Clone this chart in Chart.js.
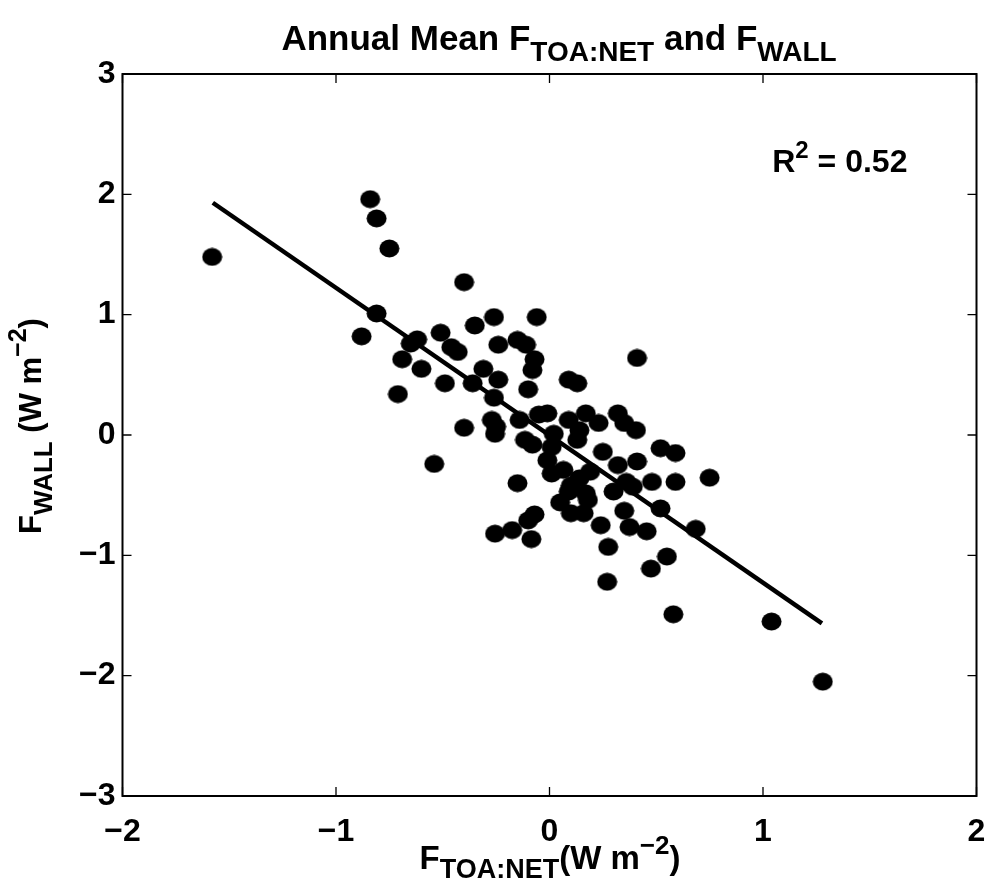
<!DOCTYPE html>
<html>
<head>
<meta charset="utf-8">
<script src="https://cdn.jsdelivr.net/npm/chart.js@4/dist/chart.umd.min.js"></script>
<style>
  body { margin: 0; background: #fff; }
  #wrap { width: 989px; height: 880px; }
</style>
</head>
<body>
<div id="wrap"><canvas id="fluxChart" width="989" height="880"></canvas></div>
<script>
// annual mean points
const toaNet = [-1.58, -0.84, -0.81, -0.75, -0.40, -0.81, -0.88, -0.51, -0.46, -0.43,
  -0.65, -0.62, -0.69, -0.60, -0.35, -0.71, -0.49, -0.36, -0.31, -0.24,
  -0.26, -0.06, -0.24, -0.15, -0.11, -0.07, -0.08, -0.10, -0.26, -0.40,
  -0.54, -0.27, -0.25, -0.255, -0.14, -0.05, -0.01, -0.115, -0.08, 0.02,
  0.01, -0.01, 0.01, 0.065, 0.09, 0.17, 0.23, 0.14, 0.13, 0.32,
  0.35, 0.405, 0.25, 0.32, 0.41, 0.52, 0.59, 0.75, 0.59, 0.48,
  0.36, 0.39, 0.30, 0.19, 0.14, 0.17, 0.18, 0.10, 0.09, 0.05,
  0.10, 0.16, 0.52, 0.35, -0.15, -0.07, -0.10, -0.175, -0.255, -0.085,
  0.24, 0.375, 0.455, 0.685, 0.275, 0.55, 0.475, 0.27, 0.58, 1.04,
  1.28, 0.41, 0.09, 0.13];
const wall = [1.48, 1.96, 1.80, 1.55, 1.27, 1.01, 0.82, 0.85, 0.73, 0.69,
  0.76, 0.795, 0.63, 0.55, 0.91, 0.34, 0.43, 0.43, 0.55, 0.46,
  0.98, 0.98, 0.75, 0.79, 0.75, 0.63, 0.54, 0.38, 0.31, 0.06,
  -0.24, 0.125, 0.07, 0.01, 0.125, 0.17, 0.18, -0.04, -0.08, 0.01,
  -0.10, -0.21, -0.32, -0.29, 0.125, 0.18, 0.10, 0.04, -0.04, 0.18,
  0.10, 0.04, -0.14, -0.25, -0.22, -0.11, -0.15, -0.355, -0.39, -0.39,
  -0.39, -0.43, -0.47, -0.305, -0.36, -0.485, -0.54, -0.42, -0.47, -0.56,
  -0.65, -0.65, -0.61, -0.63, -0.40, -0.66, -0.71, -0.79, -0.82, -0.865,
  -0.75, -0.765, -0.80, -0.78, -0.93, -1.01, -1.11, -1.22, -1.49, -1.55,
  -2.05, 0.64, 0.46, 0.43];

// least squares line end points as drawn
const fitX = [-1.577, 1.276];
const fitY = [1.93, -1.565];

const xTicks = [-2, -1, 0, 1, 2];
const yTicks = [-3, -2, -1, 0, 1, 2, 3];
const rSquared = "0.52";

const FONT = "'Liberation Sans', Arial, Helvetica, sans-serif";

// slightly flattened round marker like the matlab dots
const dot = document.createElement("canvas");
dot.width = 21; dot.height = 19;
(function () {
  const c = dot.getContext("2d");
  c.fillStyle = "#000";
  c.beginPath();
  c.ellipse(10.5, 9.5, 10, 9, 0, 0, Math.PI * 2);
  c.fill();
})();

function minus(v) {
  return String(v).replace("-", "\u2212");
}

// draws text made of pieces with sub/superscripts, centered on x
function drawRich(ctx, parts, x, y) {
  let total = 0;
  parts.forEach(p => {
    ctx.font = "bold " + p.size + "px " + FONT;
    p.w = ctx.measureText(p.t).width;
    total += p.w;
  });
  let cx = x - total / 2;
  ctx.textAlign = "left";
  ctx.textBaseline = "alphabetic";
  parts.forEach(p => {
    ctx.font = "bold " + p.size + "px " + FONT;
    ctx.fillText(p.t, cx, y + (p.dy || 0));
    cx += p.w;
  });
}

const decor = {
  id: "decor",
  afterDraw(chart) {
    const ctx = chart.ctx;
    const a = chart.chartArea;
    const xs = chart.scales.x, ys = chart.scales.y;
    ctx.save();
    ctx.strokeStyle = "#000";
    ctx.fillStyle = "#000";
    ctx.lineWidth = 2;
    ctx.strokeRect(a.left, a.top, a.right - a.left, a.bottom - a.top);

    // inward ticks on all four sides
    const tl = 9;
    ctx.lineWidth = 1.3;
    ctx.beginPath();
    xTicks.forEach(v => {
      const px = xs.getPixelForValue(v);
      ctx.moveTo(px, a.bottom); ctx.lineTo(px, a.bottom - tl);
      ctx.moveTo(px, a.top); ctx.lineTo(px, a.top + tl);
    });
    yTicks.forEach(v => {
      const py = ys.getPixelForValue(v);
      ctx.moveTo(a.left, py); ctx.lineTo(a.left + tl, py);
      ctx.moveTo(a.right, py); ctx.lineTo(a.right - tl, py);
    });
    ctx.stroke();

    // title
    drawRich(ctx, [
      { t: "Annual Mean F", size: 35 },
      { t: "TOA:NET", size: 28, dy: 11 },
      { t: " and F", size: 35 },
      { t: "WALL", size: 28, dy: 11 }
    ], 559, 50);

    // x label
    drawRich(ctx, [
      { t: "F", size: 33 },
      { t: "TOA:NET", size: 27, dy: 9 },
      { t: "(W m", size: 33 },
      { t: "\u22122", size: 26, dy: -15 },
      { t: ")", size: 33 }
    ], 550, 869);

    // y label, rotated
    ctx.save();
    ctx.translate(41, 426);
    ctx.rotate(-Math.PI / 2);
    drawRich(ctx, [
      { t: "F", size: 31 },
      { t: "WALL", size: 26, dy: 11 },
      { t: " (W m", size: 31 },
      { t: "\u22122", size: 25, dy: -15 },
      { t: ")", size: 31 }
    ], 0, 0);
    ctx.restore();

    // R^2 annotation
    const rx = xs.getPixelForValue(1.36);
    const ry = ys.getPixelForValue(2.27);
    drawRich(ctx, [
      { t: "R", size: 32 },
      { t: "2", size: 24, dy: -14 },
      { t: " = " + rSquared, size: 32 }
    ], rx, ry + 10);
    ctx.restore();
  }
};

new Chart(document.getElementById("fluxChart"), {
  type: "scatter",
  data: {
    datasets: [
      {
        label: "annual mean",
        data: toaNet.map((x, i) => ({ x: x, y: wall[i] })),
        pointStyle: dot,
        pointRadius: 10,
        backgroundColor: "#000",
        borderColor: "#000",
        order: 0
      },
      {
        type: "line",
        label: "fit",
        data: fitX.map((x, i) => ({ x: x, y: fitY[i] })),
        borderColor: "#000",
        borderWidth: 4.5,
        pointRadius: 0,
        fill: false,
        order: 1
      }
    ]
  },
  options: {
    responsive: false,
    animation: false,
    events: [],
    layout: { padding: { top: 74, right: 12.5, left: 0, bottom: 0 } },
    plugins: {
      legend: { display: false },
      title: { display: false },
      tooltip: { enabled: false }
    },
    scales: {
      x: {
        type: "linear",
        min: -2, max: 2,
        afterBuildTicks: s => { s.ticks = xTicks.map(v => ({ value: v })); },
        afterFit: s => { s.height = 84; s.paddingLeft = 0; s.paddingRight = 0; },
        grid: { display: false, drawTicks: false },
        border: { display: false },
        ticks: {
          color: "#000",
          padding: 17,
          font: { family: FONT, size: 32, weight: "bold" },
          callback: v => minus(v)
        }
      },
      y: {
        type: "linear",
        min: -3, max: 3,
        afterBuildTicks: s => { s.ticks = yTicks.map(v => ({ value: v })); },
        afterFit: s => { s.width = 122.5; s.paddingTop = 0; s.paddingBottom = 0; },
        grid: { display: false, drawTicks: false },
        border: { display: false },
        ticks: {
          color: "#000",
          padding: 7,
          font: { family: FONT, size: 32, weight: "bold" },
          callback: v => minus(v)
        }
      }
    }
  },
  plugins: [decor]
});
</script>
</body>
</html>
